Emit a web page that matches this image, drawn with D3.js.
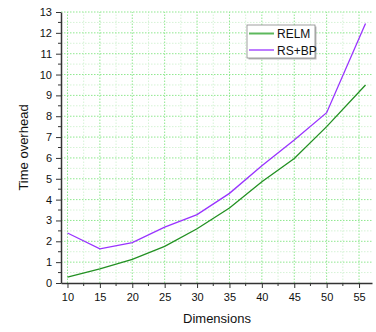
<!DOCTYPE html>
<html>
<head>
<meta charset="utf-8">
<script src="https://cdn.jsdelivr.net/npm/d3@7"></script>
<style>
  body { margin: 0; background: #fff; }
  svg { display: block; font-family: "Liberation Sans", Arial, sans-serif; }
</style>
</head>
<body>
<svg width="376" height="332"></svg>
<script>
// data
var dims = [10, 15, 20, 25, 30, 35, 40, 45, 50, 56];
var relm = [0.28, 0.68, 1.13, 1.76, 2.6, 3.6, 4.86, 5.97, 7.5, 9.5];
var rsbp = [2.4, 1.64, 1.94, 2.68, 3.28, 4.3, 5.62, 6.86, 8.17, 12.45];
var xTicks = [10, 15, 20, 25, 30, 35, 40, 45, 50, 55];
var yTicks = d3.range(0, 14, 1);

var svg = d3.select("svg");

var x = d3.scaleLinear().domain([9, 57]).range([61, 372]);
var y = d3.scaleLinear().domain([0, 13]).range([283, 12]);

// grid: minor first, then major
var grid = svg.append("g");
var xMinor = d3.range(12.5, 57, 5);
var yMinor = d3.range(0.5, 13, 1);

grid.selectAll(".vminor").data(xMinor).enter().append("line")
    .attr("x1", function (d) { return x(d); }).attr("x2", function (d) { return x(d); })
    .attr("y1", y(0)).attr("y2", y(13))
    .attr("stroke", "#d6f3d6").attr("stroke-width", 1).attr("stroke-dasharray", "1.5,1.5");
grid.selectAll(".hminor").data(yMinor).enter().append("line")
    .attr("x1", x(9)).attr("x2", x(57))
    .attr("y1", function (d) { return y(d); }).attr("y2", function (d) { return y(d); })
    .attr("stroke", "#d6f3d6").attr("stroke-width", 1).attr("stroke-dasharray", "1.5,1.5");
grid.selectAll(".vmajor").data(xTicks).enter().append("line")
    .attr("x1", function (d) { return x(d); }).attr("x2", function (d) { return x(d); })
    .attr("y1", y(0)).attr("y2", y(13))
    .attr("stroke", "#8fe88f").attr("stroke-width", 1).attr("stroke-dasharray", "1.5,1.5");
grid.selectAll(".hmajor").data(yTicks.slice(1)).enter().append("line")
    .attr("x1", x(9)).attr("x2", x(57))
    .attr("y1", function (d) { return y(d); }).attr("y2", function (d) { return y(d); })
    .attr("stroke", "#8fe88f").attr("stroke-width", 1).attr("stroke-dasharray", "1.5,1.5");

// lines
var line = d3.line()
    .x(function (d) { return x(d[0]); })
    .y(function (d) { return y(d[1]); });

svg.append("path")
    .datum(d3.zip(dims, relm))
    .attr("fill", "none").attr("stroke", "#229022").attr("stroke-width", 1.3)
    .attr("d", line);
svg.append("path")
    .datum(d3.zip(dims, rsbp))
    .attr("fill", "none").attr("stroke", "#9933ff").attr("stroke-width", 1.3)
    .attr("d", line);

// axes
var xAxis = svg.append("g")
    .attr("transform", "translate(0," + y(0) + ")")
    .call(d3.axisBottom(x).tickValues(xTicks).tickSize(5).tickPadding(5).tickSizeOuter(0));
xAxis.append("g").selectAll("line").data(xMinor).enter().append("line")
    .attr("x1", function (d) { return x(d); }).attr("x2", function (d) { return x(d); })
    .attr("y1", 0).attr("y2", 3).attr("stroke", "#333");

var yAxis = svg.append("g")
    .attr("transform", "translate(" + x(9) + ",0)")
    .call(d3.axisLeft(y).tickValues(yTicks).tickSize(5).tickPadding(4).tickSizeOuter(0));
yAxis.append("g").selectAll("line").data(yMinor).enter().append("line")
    .attr("y1", function (d) { return y(d); }).attr("y2", function (d) { return y(d); })
    .attr("x1", 0).attr("x2", -3).attr("stroke", "#333");

svg.selectAll(".domain").attr("stroke", "#333").attr("stroke-width", 1.5);
svg.selectAll(".tick line").attr("stroke", "#333");
svg.selectAll(".tick text").attr("font-size", 11).attr("fill", "#111")
    .attr("font-family", "Liberation Sans, Arial, sans-serif");

// axis titles
svg.append("text")
    .attr("x", 217).attr("y", 323)
    .attr("text-anchor", "middle").attr("font-size", 13).attr("fill", "#111")
    .text("Dimensions");
svg.append("text")
    .attr("transform", "translate(28," + y(6.5) + ") rotate(-90)")
    .attr("text-anchor", "middle").attr("font-size", 13).attr("fill", "#111")
    .text("Time overhead");

// legend
var names = ["RELM", "RS+BP"];
var colors = ["#5cb85c", "#9933ff"];
var legend = svg.append("g").attr("transform", "translate(247,25)");
legend.append("rect").attr("x", 1.5).attr("y", 1.5).attr("width", 68).attr("height", 33)
    .attr("fill", "#bbb");
legend.append("rect").attr("width", 68).attr("height", 33)
    .attr("fill", "#fff").attr("stroke", "#888").attr("stroke-width", 0.8);
legend.selectAll(".item").data(names).enter().append("g")
    .attr("transform", function (d, i) { return "translate(0," + (8.5 + i * 16.5) + ")"; })
    .each(function (d, i) {
        var g = d3.select(this);
        g.append("line").attr("x1", 2).attr("x2", 27).attr("y1", 0).attr("y2", 0)
            .attr("stroke", colors[i]).attr("stroke-width", i == 0 ? 2 : 1.3);
        g.append("text").attr("x", 30).attr("y", 4.5).attr("font-size", 12).attr("fill", "#111")
            .text(d);
    });
</script>
</body>
</html>
